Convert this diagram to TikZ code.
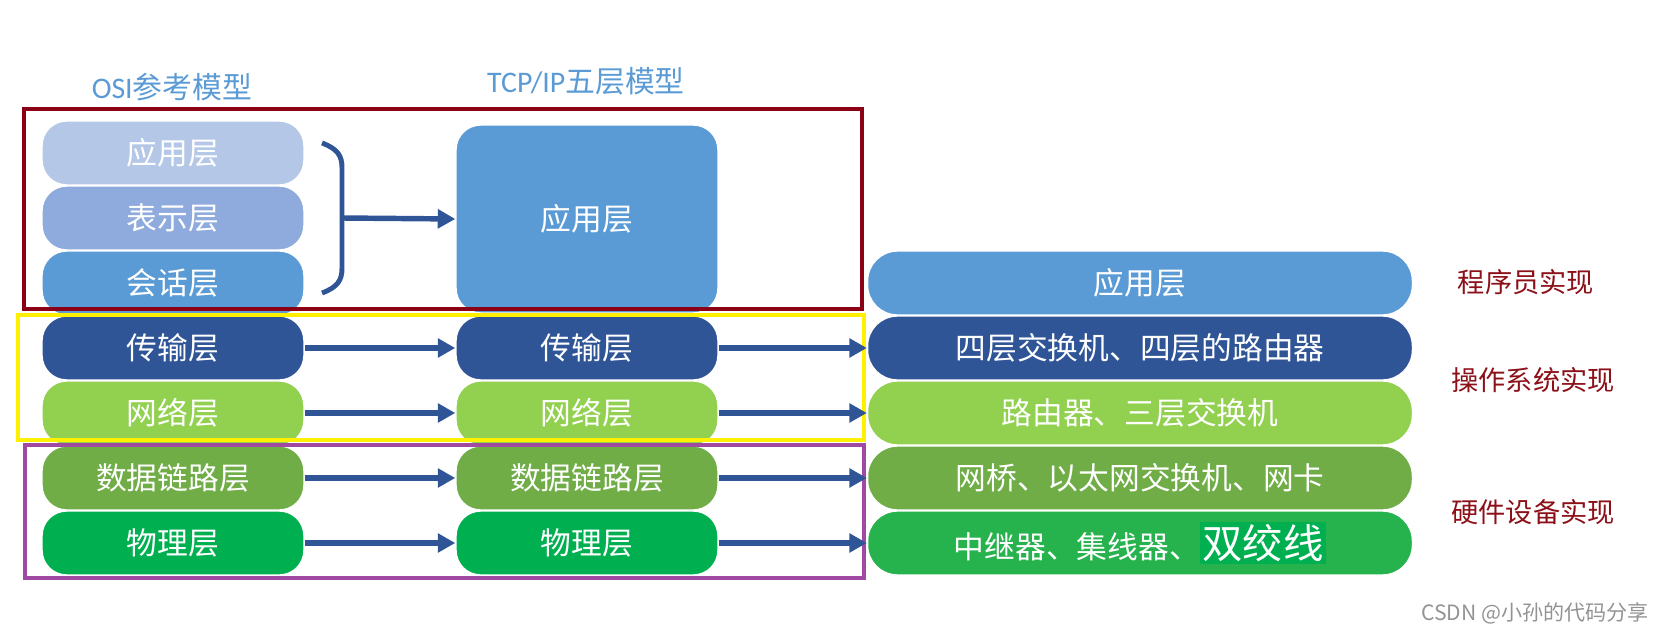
\documentclass[tikz,border=0pt]{standalone}
\usepackage{fontspec}
\setmainfont{Carlito}
\newfontfamily\cjk{Noto Sans CJK SC}
\usetikzlibrary{
  arrows.meta,
  positioning
}
\definecolor{applight}{RGB}{180,199,231}
\definecolor{presblue}{RGB}{143,170,220}
\definecolor{appblue}{RGB}{91,155,213}
\definecolor{transnavy}{RGB}{47,85,151}
\definecolor{netlime}{RGB}{146,208,80}
\definecolor{linkgreen}{RGB}{112,173,71}
\definecolor{phygreen}{RGB}{0,176,80}
\definecolor{devgreen}{RGB}{38,178,76}
\definecolor{framered}{RGB}{139,0,21}
\definecolor{frameyellow}{RGB}{255,240,0}
\definecolor{framepurple}{RGB}{160,73,163}
\definecolor{notered}{RGB}{140,16,24}
\tikzset{
  layer/.style={rounded corners=14pt, draw=white, line width=0.8pt, text=white,
    minimum width=5.24cm, minimum height=1.28cm, inner sep=0pt,
    font=\cjk\fontsize{17.5}{20}\selectfont},
  widelayer/.style={layer, rounded corners=17pt, minimum width=10.9cm},
  flow/.style={-{Triangle[length=10pt,width=10.5pt]}, transnavy, line width=3.1pt},
  frame/.style={line width=2pt},
  note/.style={font=\cjk\fontsize{15.5}{18}\selectfont, text=notered},
  heading/.style={font=\cjk\fontsize{17}{20}\selectfont, text=appblue}
}

\begin{document}
\begin{tikzpicture}[x=0.02cm,y=-0.02cm]
  \useasboundingbox (0,0) rectangle (1656,631);
  % column titles
  \node[heading] (osititle) at (172,87) {{\rmfamily OSI}参考模型};
  \node[heading] (tcptitle) at (586,81) {{\rmfamily TCP/IP}五层模型};
  % OSI seven layers
  \node[layer, fill=applight] (osiapp) at (173,153) {应用层};
  \node[layer, fill=presblue] (osipres) at (173,218) {表示层};
  \node[layer, fill=appblue] (osisess) at (173,283) {会话层};
  \node[layer, fill=transnavy] (ositrans) at (173,348) {传输层};
  \node[layer, fill=netlime] (osinet) at (173,413) {网络层};
  \node[layer, fill=linkgreen] (osilink) at (173,478) {数据链路层};
  \node[layer, fill=phygreen] (osiphy) at (173,543) {物理层};
  % TCP/IP five layers
  \node[layer, fill=appblue, minimum height=3.76cm] (tcpapp) at (587,219) {应用层};
  \node[layer, fill=transnavy] (tcptrans) at (587,348) {传输层};
  \node[layer, fill=netlime] (tcpnet) at (587,413) {网络层};
  \node[layer, fill=linkgreen] (tcplink) at (587,478) {数据链路层};
  \node[layer, fill=phygreen] (tcpphy) at (587,543) {物理层};
  % devices per layer
  \node[widelayer, fill=appblue] (devapp) at (1140,283) {应用层};
  \node[widelayer, fill=transnavy] (devtrans) at (1140,348) {四层交换机、四层的路由器};
  \node[widelayer, fill=netlime] (devnet) at (1140,413) {路由器、三层交换机};
  \node[widelayer, fill=linkgreen] (devlink) at (1140,478) {网桥、以太网交换机、网卡};
  \node[widelayer, fill=devgreen] (devphy) at (1140,543)
    {中继器、集线器、{\setlength{\fboxsep}{1.5pt}\colorbox{phygreen}{\fontsize{23}{26}\selectfont 双绞线}}};
  % frames
  \draw[frame, framered] (24,109) rectangle (862,309);
  \draw[frame, frameyellow, line width=2.6pt] (18,315) rectangle (864,440);
  \draw[frame, framepurple] (25,445) rectangle (864,578);
  % brace over the upper three layers
  \draw[transnavy, line width=2.8pt]
    (322,143) .. controls (338,149) and (342,156) .. (342,168) -- (342,268)
    .. controls (342,280) and (338,287) .. (322,293);
  \coordinate (bracemid) at (342,218);
  \draw[flow] (bracemid) -- (tcpapp.west);
  % layer mapping
  \draw[flow] (ositrans) -- (tcptrans);
  \draw[flow] (osinet) -- (tcpnet);
  \draw[flow] (osilink) -- (tcplink);
  \draw[flow] (osiphy) -- (tcpphy);
  \draw[flow] (tcptrans) -- (devtrans);
  \draw[flow] (tcpnet) -- (devnet);
  \draw[flow] (tcplink) -- (devlink);
  \draw[flow] (tcpphy) -- (devphy);
  % who implements it
  \node[note] (progimpl) at (1526,282) {程序员实现};
  \node[note] (osimpl) at (1533,380) {操作系统实现};
  \node[note] (hwimpl) at (1533,512) {硬件设备实现};
  \node[font=\cjk\fontsize{12}{14}\selectfont, text=gray!85] (mark) at (1535,613) {CSDN @小孙的代码分享};
\end{tikzpicture}
\end{document}
